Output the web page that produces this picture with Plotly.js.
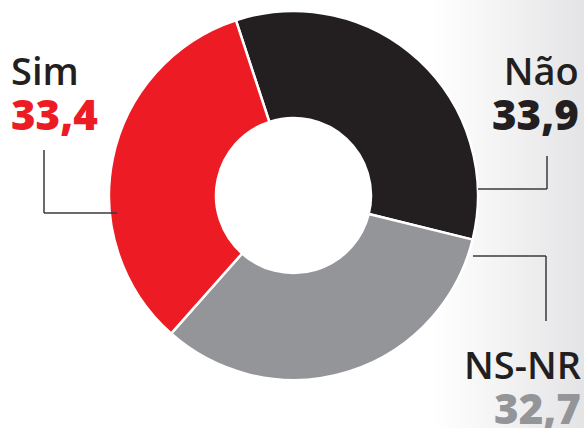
<!DOCTYPE html>
<html>
<head>
<meta charset="utf-8">
<script src="https://cdn.plot.ly/plotly-3.0.1.min.js"></script>
<style>
html,body{margin:0;padding:0;}
body{width:584px;height:428px;overflow:hidden;
background:linear-gradient(to right,#ffffff 0%,#ffffff 74%,#f3f3f4 86%,#e4e4e6 100%);}
#chart{width:584px;height:428px;}
</style>
</head>
<body>
<div id="chart"></div>
<script>
const categories = ["Não", "NS-NR", "Sim"];
const values = [33.9, 32.7, 33.4];
const valueLabels = ["33,9", "32,7", "33,4"];
const sliceColors = ["#231f20", "#939598", "#ed1c24"];
const valueColors = ["#231f20", "#939598", "#ed1c24"];

const W = 584, H = 428;
const px = x => x / W;
const py = y => 1 - y / H;

const trace = {
  type: "pie",
  labels: categories,
  values: values,
  sort: false,
  direction: "clockwise",
  rotation: -18.2,
  hole: 0.42,
  textinfo: "none",
  hoverinfo: "label+value",
  marker: { colors: sliceColors, line: { color: "#ffffff", width: 2.5 } },
  domain: { x: [px(109), px(478)], y: [py(380), py(11)] },
  showlegend: false
};

const font = "'Open Sans', 'Noto Sans', sans-serif";
const label = (i) =>
  '<span style="font-size:38px;font-weight:600">' + categories[i] + '</span><br>' +
  '<span style="font-size:42px;font-weight:800;color:' + valueColors[i] + '">' + valueLabels[i] + '</span>';

const annotations = [
  { text: label(2), x: px(10), y: py(143), xanchor: "left", align: "left", yanchor: "bottom" },
  { text: label(0), x: px(580), y: py(143), xanchor: "right", align: "right", yanchor: "bottom" },
  { text: label(1), x: px(582), y: py(437), xanchor: "right", align: "right", yanchor: "bottom" }
].map(a => Object.assign({ xref: "paper", yref: "paper", showarrow: false, borderpad: 0,
  font: { family: font, size: 34.6, color: "#231f20" } }, a));

const lineStyle = { color: "#3a3a3a", width: 1.5 };
const seg = (x0, y0, x1, y1) => ({ type: "line", xref: "paper", yref: "paper",
  x0: px(x0), y0: py(y0), x1: px(x1), y1: py(y1), line: lineStyle });

const shapes = [
  seg(44, 150, 44, 213), seg(44, 213, 117, 213),
  seg(547, 156, 547, 189), seg(478, 189, 547, 189),
  seg(473, 256, 546, 256), seg(546, 256, 546, 321)
];

const layout = {
  width: W, height: H,
  margin: { l: 0, r: 0, t: 0, b: 0 },
  paper_bgcolor: "rgba(0,0,0,0)",
  plot_bgcolor: "rgba(0,0,0,0)",
  annotations: annotations,
  shapes: shapes,
  showlegend: false
};

Plotly.newPlot("chart", [trace], layout, { displayModeBar: false, staticPlot: true });
</script>
</body>
</html>
